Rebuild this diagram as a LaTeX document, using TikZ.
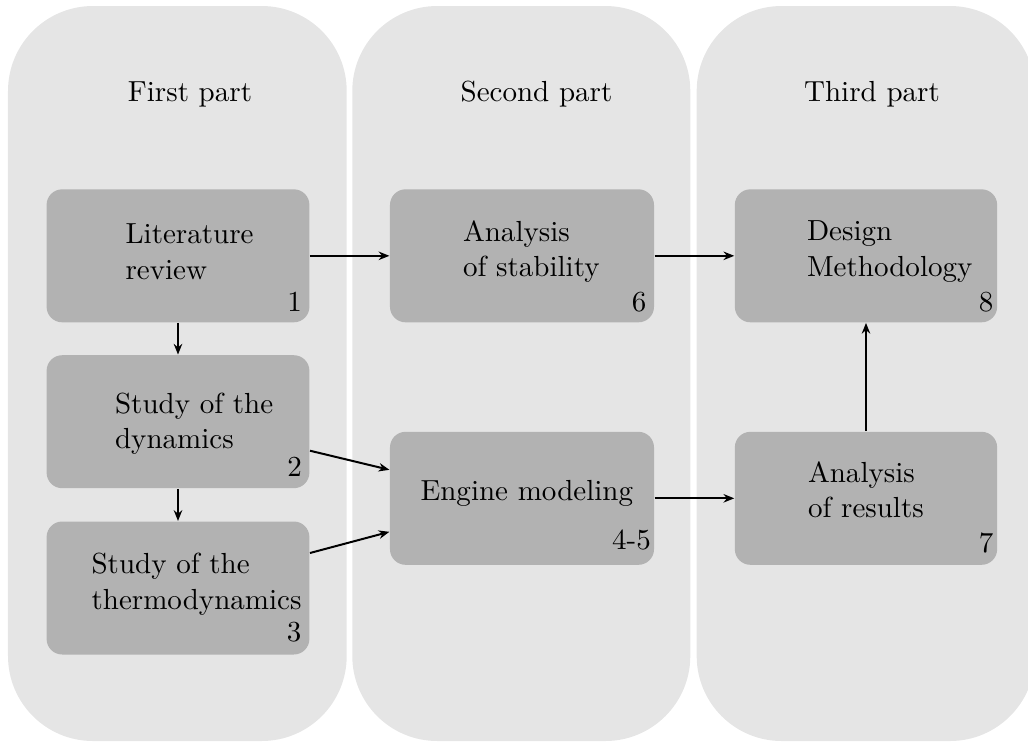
\documentclass[tikz,border=0pt]{standalone}
\usetikzlibrary{arrows.meta,calc}
\renewcommand\arraystretch{1.02}
\begin{document}
\begin{tikzpicture}[x=0.353pt,y=-0.353pt,
  every node/.style={font=\fontsize{10.25pt}{12.4pt}\selectfont},
  column/.style={fill=gray!20, rounded corners=30pt},
  stage/.style={fill=gray!60, rounded corners=5.5pt, inner sep=0pt,
    minimum height=46.95pt},
  stagetext/.style={inner sep=0pt, anchor=base west},
  stagenum/.style={inner sep=0pt, anchor=base east},
  title/.style={inner sep=0pt, anchor=base},
  flow/.style={-{Stealth[length=3.8pt,width=3pt]}, line width=0.7pt}]
\clip (0,0) rectangle (1028,742);

% the three part columns
\fill[column] (8,6) rectangle (346.7,741);
\fill[column] (352.3,6) rectangle (690.3,741);
\fill[column] (696.7,6) rectangle (1035,741);

\node[title] (p1) at (190,101) {First part};
\node[title] (p2) at (536.5,101) {Second part};
\node[title] (p3) at (872,101) {Third part};

% stages
\node[stage, minimum width=92.77pt] (b1) at (178,255.8) {};
\node[stage, minimum width=92.77pt] (b2) at (178,421.7) {};
\node[stage, minimum width=92.77pt] (b3) at (178,588) {};
\node[stage, minimum width=93.2pt] (b6) at (522,255.8) {};
\node[stage, minimum width=93.2pt] (b45) at (522,498.3) {};
\node[stage, minimum width=92.6pt] (b8) at (866,255.8) {};
\node[stage, minimum width=92.6pt] (b7) at (866,498.3) {};

% stage texts
\node[stagetext] (t1) at (125,243.3) {\begin{tabular}[t]{@{}l@{}}Literature\\review\end{tabular}};
\node[stagetext] (t2) at (114.5,413) {\begin{tabular}[t]{@{}l@{}}Study of the\\dynamics\end{tabular}};
\node[stagetext] (t3) at (91,573.3) {\begin{tabular}[t]{@{}l@{}}Study of the\\thermodynamics\end{tabular}};
\node[stagetext] (t6) at (462.5,241) {\begin{tabular}[t]{@{}l@{}}Analysis\\of stability\end{tabular}};
\node[stagetext] (t45) at (420,500.7) {Engine modeling};
\node[stagetext] (t8) at (806.5,240.7) {\begin{tabular}[t]{@{}l@{}}Design\\Methodology\end{tabular}};
\node[stagetext] (t7) at (807.5,482) {\begin{tabular}[t]{@{}l@{}}Analysis\\of results\end{tabular}};

% chapter numbers
\node[stagenum] (n1) at (302.5,311) {1};
\node[stagenum] (n2) at (302.5,476.5) {2};
\node[stagenum] (n3) at (302,641.7) {3};
\node[stagenum] (n6) at (647,311) {6};
\node[stagenum] (n45) at (651.5,549) {4-5};
\node[stagenum] (n8) at (994,311.5) {8};
\node[stagenum] (n7) at (994,552) {7};

% connections
\draw[flow] (b1) -- (b6);
\draw[flow] (b6) -- (b8);
\draw[flow] (b1) -- (b2);
\draw[flow] (b2) -- (b3);
\draw[flow] ($(b2.east)+(0,29)$) -- ($(b45.west)+(0,-28.5)$);
\draw[flow] ($(b3.east)+(0,-35)$) -- ($(b45.west)+(0,33.5)$);
\draw[flow] (b45) -- (b7);
\draw[flow] (b7) -- (b8);
\end{tikzpicture}
\end{document}
